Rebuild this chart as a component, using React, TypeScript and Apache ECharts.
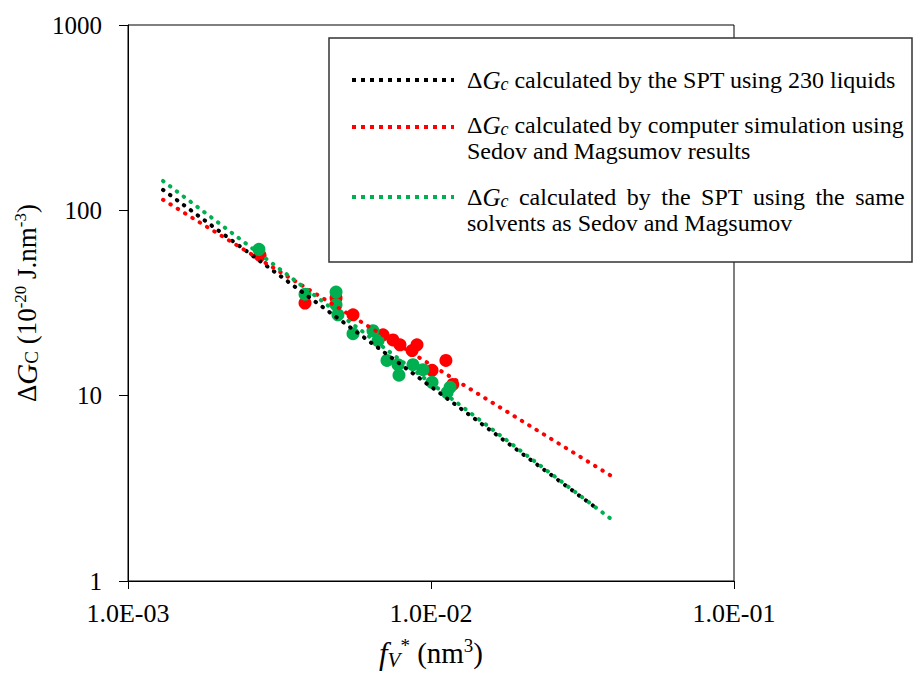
import React, { useEffect, useRef } from "react";
import * as echarts from "echarts";

// Scatter data (f_V* in nm^3, ΔG_C in 1e-20 J.nm^-3)
const redX = [0.002727, 0.003839, 0.00486, 0.005528, 0.006944, 0.00749, 0.0079, 0.00866, 0.00899, 0.01008, 0.0112, 0.0118];
const redY = [57.2, 31.6, 33.6, 27.3, 21.3, 20.0, 18.8, 17.5, 18.8, 13.7, 15.5, 11.5];
const greenX = [0.002705, 0.00486, 0.003839, 0.00486, 0.00493, 0.005528, 0.006435, 0.006685, 0.007157, 0.00778, 0.00784, 0.00872, 0.00941, 0.01008, 0.01156, 0.0113];
const greenY = [61.6, 36.2, 35.3, 30.9, 27.3, 21.6, 22.4, 19.8, 15.5, 14.7, 12.9, 14.7, 13.8, 11.8, 11.1, 10.4];

// Power-law trend lines (endpoints)
const trendBlackX = [0.001305, 0.0353];
const trendBlackY = [129, 2.46];
const trendRedX = [0.001305, 0.0402];
const trendRedY = [114, 3.61];
const trendGreenX = [0.001305, 0.0399];
const trendGreenY = [144, 2.12];

const xTicks = [0.001, 0.01, 0.1];
const yTicks = [1, 10, 100, 1000];

const RED = "#ff0000";
const GREEN = "#00b050";
const BLACK = "#000000";
const FONT = "Liberation Serif";

const zip = (xs: number[], ys: number[]) => xs.map((x, i) => [x, ys[i]]);

const fmtX = (v: number) => {
  const e = Math.round(Math.log10(v));
  const sign = e < 0 ? "-" : "+";
  const a = Math.abs(e);
  return "1.0E" + sign + (a < 10 ? "0" + a : String(a));
};

export default function App() {
  const ref = useRef<HTMLDivElement>(null);
  useEffect(() => {
    if (!ref.current) return;
    const chart = echarts.init(ref.current, undefined, { renderer: "svg" });
    const dotted = (color: string) => ({
      color,
      width: 4,
      type: [0.5, 8.1] as number[],
      cap: "round" as const,
    });
    const legendLine = (y: number, color: string) => ({
      type: "line",
      shape: { x1: 352, y1: y, x2: 454, y2: y },
      style: { stroke: color, lineWidth: 4, lineDash: [4, 5] },
      z: 100,
    });
    const legendText = (y: number, text: string) => ({
      type: "text",
      x: 467,
      y,
      style: {
        text,
        rich: {
          n: { fontFamily: FONT, fontSize: 24, fill: "#000", lineHeight: 26 },
          g: { fontFamily: FONT, fontSize: 24, fill: "#000", lineHeight: 26, width: 10.5 },
          i: { fontFamily: FONT, fontSize: 25, fontStyle: "italic", fill: "#000", lineHeight: 26 },
          sub: { fontFamily: FONT, fontSize: 18, fontStyle: "italic", fill: "#000", lineHeight: 26, verticalAlign: "bottom" },
        },
        fontFamily: FONT,
        fontSize: 24,
        fill: "#000",
        verticalAlign: "middle",
        lineHeight: 26,
      },
      z: 100,
    });
    const justified = ["calculated", "by", "the", "SPT", "using", "the", "same"]
      .map((w) => "{g| }{n|" + w + "}")
      .join("");
    chart.setOption({
      animation: false,
      backgroundColor: "#fff",
      textStyle: { fontFamily: FONT },
      grid: {
        left: 128,
        right: 184,
        top: 25,
        bottom: 90,
        show: true,
        borderColor: "#000",
        borderWidth: 1,
        backgroundColor: "transparent",
      },
      xAxis: {
        type: "log",
        logBase: 10,
        min: xTicks[0],
        max: xTicks[xTicks.length - 1],
        axisLine: { show: true, lineStyle: { color: "#000", width: 1 } },
        axisTick: { show: true, length: 8, lineStyle: { color: "#000" } },
        minorTick: { show: false },
        splitLine: { show: false },
        axisLabel: {
          formatter: (v: number) => fmtX(v),
          fontFamily: FONT,
          fontSize: 26,
          color: "#000",
          margin: 19,
        },
        name: "{i|f}{sub|V}{sup|*}{n| (nm}{sup|3}{n|)}",
        nameLocation: "middle",
        nameGap: 55,
        nameTextStyle: {
          fontFamily: FONT,
          rich: {
            n: { fontFamily: FONT, fontSize: 29, color: "#000" },
            i: { fontFamily: FONT, fontSize: 31, fontStyle: "italic", color: "#000" },
            sub: { fontFamily: FONT, fontSize: 21, fontStyle: "italic", color: "#000", verticalAlign: "bottom", padding: [13, 0, 0, 0] },
            sup: { fontFamily: FONT, fontSize: 19, color: "#000", verticalAlign: "top", padding: [0, 0, 11, 0] },
          },
        },
      },
      yAxis: {
        type: "log",
        logBase: 10,
        min: yTicks[0],
        max: yTicks[yTicks.length - 1],
        axisLine: { show: true, lineStyle: { color: "#000", width: 1 } },
        axisTick: { show: true, length: 9, lineStyle: { color: "#000" } },
        minorTick: { show: false },
        splitLine: { show: false },
        axisLabel: {
          formatter: (v: number) => String(Math.round(v)),
          fontFamily: FONT,
          fontSize: 25,
          color: "#000",
          margin: 26,
        },
        name: "{n|Δ}{i|G}{sub|C}{n| (10}{sup|-20}{n| J.nm}{sup|-3}{n|)}",
        nameLocation: "middle",
        nameGap: 68,
        nameTextStyle: {
          fontFamily: FONT,
          rich: {
            n: { fontFamily: FONT, fontSize: 27, color: "#000" },
            i: { fontFamily: FONT, fontSize: 29, fontStyle: "italic", color: "#000" },
            sub: { fontFamily: FONT, fontSize: 19, color: "#000", verticalAlign: "bottom", padding: [10, 0, 0, 0] },
            sup: { fontFamily: FONT, fontSize: 17, color: "#000", verticalAlign: "top", padding: [0, 0, 10, 0] },
          },
        },
      },
      series: [
        {
          type: "scatter",
          data: zip(redX, redY),
          symbol: "circle",
          symbolSize: 13,
          itemStyle: { color: RED, opacity: 1 },
          z: 2,
        },
        {
          type: "scatter",
          data: zip(greenX, greenY),
          symbol: "circle",
          symbolSize: 13,
          itemStyle: { color: GREEN, opacity: 1 },
          z: 3,
        },
        {
          type: "line",
          data: zip(trendBlackX, trendBlackY),
          showSymbol: false,
          symbol: "none",
          lineStyle: dotted(BLACK),
          z: 4,
        },
        {
          type: "line",
          data: zip(trendRedX, trendRedY),
          showSymbol: false,
          symbol: "none",
          lineStyle: dotted(RED),
          z: 4,
        },
        {
          type: "line",
          data: zip(trendGreenX, trendGreenY),
          showSymbol: false,
          symbol: "none",
          lineStyle: dotted(GREEN),
          z: 4,
        },
      ],
      graphic: [
        {
          type: "rect",
          shape: { x: 329, y: 38, width: 583, height: 224 },
          style: { fill: "#fff", stroke: "#333", lineWidth: 1.5 },
          z: 90,
        },
        legendLine(80, BLACK),
        legendText(80, "{n|Δ}{i|G}{sub|c}{n| calculated by the SPT using 230 liquids}"),
        legendLine(127, RED),
        legendText(138, "{n|Δ}{i|G}{sub|c}{n| calculated by computer simulation using}\n{n|Sedov and Magsumov results}"),
        legendLine(197, GREEN),
        legendText(210, "{n|Δ}{i|G}{sub|c}" + justified + "\n{n|solvents as Sedov and Magsumov}"),
      ],
    });
    return () => chart.dispose();
  }, []);
  return (
    <div
      ref={ref}
      style={{ position: "fixed", left: 0, top: 0, width: 918, height: 675, background: "#fff" }}
    />
  );
}
